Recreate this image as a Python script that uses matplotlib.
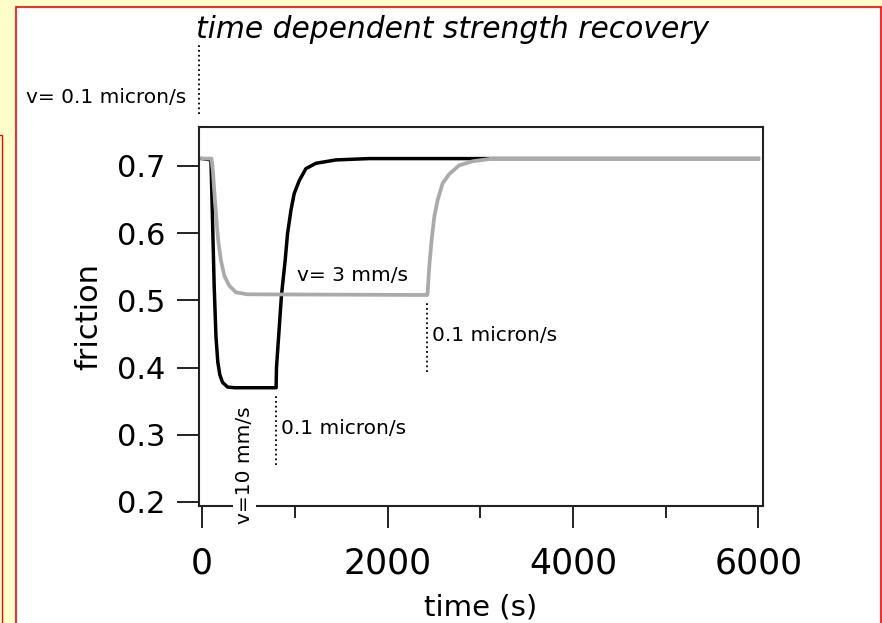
import matplotlib
matplotlib.use('Agg')
import matplotlib.pyplot as plt
from matplotlib.patches import Rectangle

# fast step (v = 10 mm/s), then back to 0.1 micron/s
t_fast = [0, 94, 111, 129, 148, 168, 190, 219, 273, 350, 797, 801, 855, 895, 920, 957, 992,
          1046, 1118, 1226, 1442, 1800, 6000]
f_fast = [0.711, 0.709, 0.619, 0.52, 0.446, 0.408, 0.389, 0.378, 0.371, 0.37, 0.37, 0.40, 0.508, 0.56, 0.599, 0.634, 0.659,
          0.678, 0.696, 0.704, 0.709, 0.711, 0.711]

# slower step (v = 3 mm/s), then back to 0.1 micron/s
t_slow = [0, 100, 115, 129, 151, 172, 201, 237, 291, 363, 489, 2428, 2431, 2449, 2474, 2503, 2539,
          2593, 2665, 2773, 2917, 3133, 6000]
f_slow = [0.711, 0.711, 0.693, 0.664, 0.624, 0.589, 0.56, 0.537, 0.522, 0.512, 0.509, 0.508, 0.51, 0.55, 0.589, 0.624, 0.649,
          0.674, 0.688, 0.701, 0.707, 0.711, 0.711]

xticks = [0, 2000, 4000, 6000]
xminor = [1000, 3000, 5000]
yticks = [0.2, 0.3, 0.4, 0.5, 0.6, 0.7]

fig = plt.figure(figsize=(8.82, 6.23), dpi=100, facecolor='#FFFFCC')
# white panel with red border, and the cut-off box on the left
fig.patches.append(Rectangle((16/882, -0.01), 865/882, 1.01 - 7/623, transform=fig.transFigure,
                             facecolor='white', edgecolor='red', lw=1.2, zorder=-10))
fig.patches.append(Rectangle((-0.01, -0.01), 0.01 + 2.5/882, 1.01 - 135/623, transform=fig.transFigure,
                             facecolor='#FFFFCC', edgecolor='red', lw=1.0, zorder=-10))

ax = fig.add_axes([199/882, 1 - 506/623, 564/882, 379/623])
ax.plot(t_fast, f_fast, color='black', lw=2.5, solid_joinstyle='round')
ax.plot(t_slow, f_slow, color='#AAAAAA', lw=2.7, solid_joinstyle='round')

ax.set_xlim(-35, 6050)
ax.set_ylim(0.194, 0.758)
ax.set_xticks(xticks)
ax.set_xticks(xminor, minor=True)
ax.set_yticks(yticks)
ax.set_yticklabels(['0.2', '0.3', '0.4', '0.5', '0.6', '0.7'])
ax.tick_params(axis='both', which='major', direction='out', length=16, width=1.4, color='#222222')
ax.tick_params(axis='x', which='major', pad=13, labelsize=25)
ax.tick_params(axis='y', which='major', pad=8, labelsize=22)
ax.tick_params(axis='x', which='minor', direction='out', length=8.5, width=1.4, color='#222222')
for s in ax.spines.values():
    s.set_linewidth(1.5)
    s.set_color('#222222')

ax.set_xlabel('time (s)', fontsize=21, labelpad=9.5)
ax.set_ylabel('friction', fontsize=22, labelpad=10)

fig.text(453/882, 1 - 30/623, 'time dependent strength recovery', fontsize=21.4,
         style='italic', ha='center', va='center')

# annotations
ax.plot([-32, -32], [0.778, 0.882], ls=':', color='black', lw=1.3, clip_on=False)
ax.text(-172, 0.802, 'v= 0.1 micron/s', fontsize=14.5, ha='right', va='center')
ax.text(1024, 0.537, 'v= 3 mm/s', fontsize=14.5, ha='left', va='center')
ax.plot([2425, 2425], [0.393, 0.496], ls=':', color='black', lw=1.3)
ax.text(2478, 0.448, '0.1 micron/s', fontsize=14.5, ha='left', va='center')
ax.plot([800, 800], [0.255, 0.359], ls=':', color='black', lw=1.3)
ax.text(851, 0.31, '0.1 micron/s', fontsize=14.5, ha='left', va='center')
ax.text(452, 0.255, 'v=10 mm/s', fontsize=14.5, rotation=90, ha='center', va='center', clip_on=False,
        bbox=dict(facecolor='white', edgecolor='none', pad=1.5), zorder=5)

fig.savefig('out.png', dpi=100, facecolor=fig.get_facecolor())
